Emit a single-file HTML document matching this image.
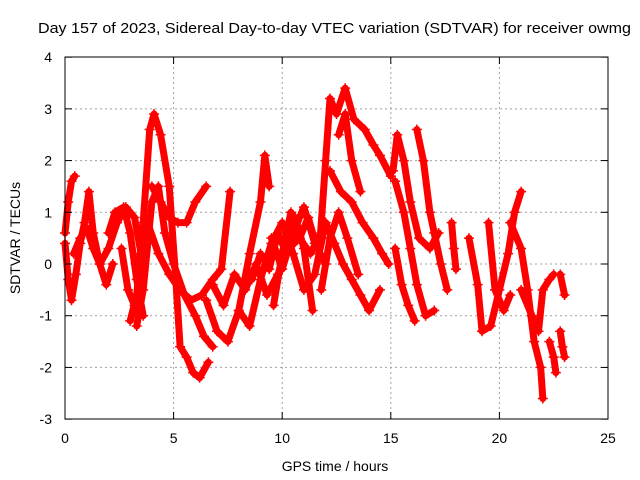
<!DOCTYPE html>
<html><head><meta charset="utf-8"><style>
body{margin:0;background:#fff}
svg{display:block;font-family:"Liberation Sans",sans-serif}
</style></head><body>
<svg id="chart" width="640" height="480">
<rect width="640" height="480" fill="#fff"/>
<text x="38" y="33" font-size="15" textLength="593" lengthAdjust="spacingAndGlyphs">Day 157 of 2023, Sidereal Day-to-day VTEC variation (SDTVAR) for receiver owmg</text>
<text x="335" y="471" font-size="14" text-anchor="middle">GPS time / hours</text>
<text x="20" y="238" font-size="14" text-anchor="middle" transform="rotate(-90 20 238)">SDTVAR / TECUs</text>
<g id="grid"></g><g id="marks"></g><g id="axes"></g>
</svg>
<script>
const xTicks=[0,5,10,15,20,25];
const yTicks=[-3,-2,-1,0,1,2,3,4];
const tracks=[
{t:[0,0.15,0.3,0.45],v:[0.6,1.2,1.6,1.7]},
{t:[0,0.15,0.3,0.5,0.7,0.9,1.1,1.3,1.6,1.9,2.2],v:[0.4,-0.3,-0.7,-0.2,0.4,0.8,1.4,0.6,0,-0.4,0.0]},
{t:[0.4,0.7,1.0,1.3,1.6,2.0,2.4,2.8,3.2,3.5],v:[0.2,0.5,0.7,0.3,0.0,0.3,0.8,1.1,0.9,0.2]},
{t:[2.0,2.3,2.7,3.0,3.3,3.6],v:[0.6,1.0,1.1,0.6,-0.3,-1.0]},
{t:[2.6,2.9,3.2,3.5],v:[0.3,-0.5,-0.8,-0.4]},
{t:[3.0,3.3,3.6,3.9,4.1,4.4,4.8,5.1,5.3,5.6,5.9,6.2,6.6],v:[-1.1,-0.6,0.8,2.6,2.9,2.5,1.5,-0.3,-1.6,-1.8,-2.1,-2.2,-1.9]},
{t:[4.0,4.4,4.8,5.2,5.6,6.0,6.5],v:[1.5,1.2,0.9,0.8,0.8,1.2,1.5]},
{t:[3.3,3.6,4.0,4.3,4.6,5.0,5.5,6.0,6.4,6.8],v:[-1.2,-0.5,1.2,1.5,0.6,0.0,-0.6,-1.0,-1.4,-1.6]},
{t:[3.8,4.3,4.8,5.3,5.8,6.3,6.8,7.2,7.6],v:[0.8,0.2,-0.2,-0.5,-0.7,-0.6,-0.3,-0.1,1.4]},
{t:[6.5,7.0,7.5,8.0,8.5,9.0,9.2,9.4],v:[-0.7,-1.3,-1.5,-0.9,0.2,1.2,2.1,1.5]},
{t:[6.8,7.3,7.8,8.3,8.8,9.3,9.8,10.3,10.8,11.3,11.8],v:[-0.4,-0.8,-0.2,-0.5,0.0,-0.6,-0.2,0.3,0.5,0.2,0.6]},
{t:[8.0,8.5,9.0,9.5,10.0,10.5,11.0,11.5,12.0],v:[-0.9,-1.2,-0.3,0.4,0.8,0.2,-0.5,-0.2,0.8]},
{t:[9.5,10.0,10.5,11.0,11.5,12.0],v:[0.5,-0.1,0.6,1.1,0.4,0.0]},
{t:[8.6,9.0,9.4,9.8,10.2,10.6,11.0,11.4],v:[-0.3,0.2,-0.1,0.6,0.2,0.9,0.3,-0.9]},
{t:[9.6,10.0,10.4,10.8,11.2,11.6],v:[-0.8,0.2,1.0,0.5,0.9,0.3]},
{t:[11.7,12.0,12.2,12.5,12.9,13.3,13.8,14.2,14.5,15.0],v:[0.2,2.0,3.2,2.9,3.4,2.8,2.6,2.3,2.1,1.7]},
{t:[12.2,12.7,13.2,13.7,14.2,14.6,14.9],v:[1.8,1.4,1.2,0.8,0.5,0.2,0.0]},
{t:[12.0,12.4,12.8,13.2,13.6,14.0,14.5],v:[0.8,0.4,0.0,-0.3,-0.6,-0.9,-0.5]},
{t:[11.8,12.2,12.6,13.0,13.5],v:[-0.5,0.5,1.0,0.5,-0.2]},
{t:[12.6,12.9,13.2,13.6],v:[2.5,2.9,2.0,1.4]},
{t:[15.1,15.3,15.6,15.9,16.3,16.8,17.2],v:[1.8,2.5,2.0,1.2,0.5,0.3,0.6]},
{t:[15.2,15.6,15.9,16.2,16.6,17.0],v:[1.6,1.0,0.3,-0.4,-1.0,-0.9]},
{t:[16.2,16.5,16.8,17.0,17.3,17.6],v:[2.6,2.0,1.0,0.6,0.0,-0.5]},
{t:[15.2,15.5,15.8,16.1],v:[0.3,-0.4,-0.8,-1.1]},
{t:[17.8,17.9,18.0],v:[0.8,0.3,-0.1]},
{t:[18.6,19.0,19.2,19.6,20.0,20.4,20.7,21.0],v:[0.5,-0.4,-1.3,-1.2,-0.5,0.2,1.0,1.4]},
{t:[19.5,19.8,20.2,20.5],v:[0.8,-0.5,-0.9,-0.6]},
{t:[20.5,21.0,21.3,21.6,21.9,22.0],v:[0.8,0.3,-0.5,-1.5,-2.0,-2.6]},
{t:[21.0,21.5,21.8,22.0,22.3,22.5],v:[-0.5,-1.0,-1.3,-0.5,-0.3,-0.2]},
{t:[22.3,22.5,22.6],v:[-1.5,-1.8,-2.1]},
{t:[22.8,23.0],v:[-0.2,-0.6]},
{t:[22.8,22.9,23.0],v:[-1.3,-1.6,-1.8]}
];
const X=t=>65+t*(543/25), Y=v=>264-v*(362/7);
const NS="http://www.w3.org/2000/svg";
const grid=document.getElementById('grid'),marks=document.getElementById('marks'),axes=document.getElementById('axes');
function mk(p,tag,a){const e=document.createElementNS(NS,tag);for(const k in a)e.setAttribute(k,a[k]);p.appendChild(e);return e;}
xTicks.forEach(t=>{
 if(t>0&&t<25){const g=mk(grid,'line',{x1:X(t),x2:X(t),y1:57,y2:419,stroke:'#a0a0a0','stroke-dasharray':'2,3'});
 
 }
 const l=mk(axes,'text',{x:X(t),y:443,'font-size':14,'text-anchor':'middle'});l.textContent=t;
 
 
 mk(axes,'line',{x1:X(t),x2:X(t),y1:419,y2:412,stroke:'#000'});
 mk(axes,'line',{x1:X(t),x2:X(t),y1:57,y2:64,stroke:'#000'});
});
yTicks.forEach(v=>{
 if(v>-3&&v<4){const g=mk(grid,'line',{x1:65,x2:608,y1:Y(v),y2:Y(v),stroke:'#a0a0a0','stroke-dasharray':'2,3'});
 
 }
 const l=mk(axes,'text',{x:52,y:Y(v)+5,'font-size':14,'text-anchor':'end'});l.textContent=v;
 
 
 mk(axes,'line',{x1:65,x2:72,y1:Y(v),y2:Y(v),stroke:'#000'});
 mk(axes,'line',{x1:601,x2:608,y1:Y(v),y2:Y(v),stroke:'#000'});
});
const fr=mk(axes,'rect',{x:65,y:57,width:543,height:362,fill:'none',stroke:'#000'});


tracks.forEach(tr=>{
 const pts=tr.t.map((t,i)=>X(t)+','+Y(tr.v[i])).join(' ');
 const pl=mk(marks,'polyline',{points:pts,fill:'none',stroke:'#ff0000','stroke-width':7,'stroke-linejoin':'round','stroke-linecap':'round'});
 
 
 tr.t.forEach((t,i)=>{
  const x=X(t),y=Y(tr.v[i]);
  const p=mk(marks,'path',{d:`M${x-5},${y}h10M${x},${y-5}v10`,stroke:'#ff0000','stroke-width':1.5});
  
  
 });
});
</script>
</body></html>
